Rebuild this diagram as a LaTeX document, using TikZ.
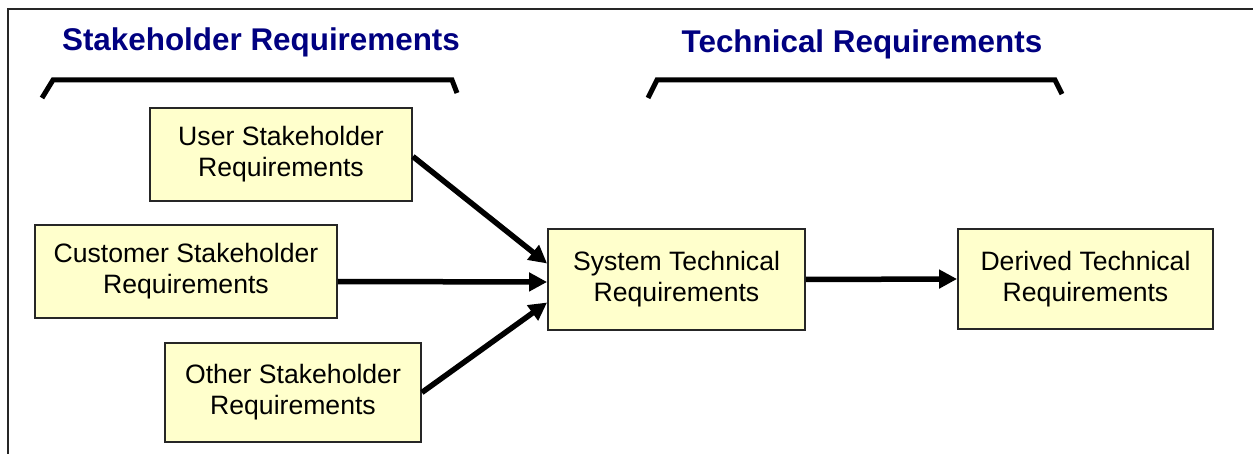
\documentclass[tikz,border=0pt]{standalone}
\usepackage{fontspec}
\setmainfont{Liberation Sans}
\usetikzlibrary{arrows.meta,calc}
\definecolor{boxfill}{HTML}{FFFFCC}
\definecolor{titleblue}{HTML}{000080}
\begin{document}
\begin{tikzpicture}[x=1pt,y=-1pt,
  reqbox/.style={draw=black!85, line width=1.8pt, fill=boxfill, align=center, inner sep=0pt,
    font=\fontsize{26.6}{31}\selectfont},
  title/.style={text=titleblue, font=\fontsize{31.4}{36}\selectfont\bfseries, inner sep=0pt},
  bracketline/.style={line width=5pt, line join=miter},
  flow/.style={line width=5.5pt, -{Triangle[length=18pt,width=18pt]}},
  frameline/.style={line width=2pt, draw=black!85}]
\useasboundingbox (0,0) rectangle (1253,454);
\draw[frameline] (8,454) -- (8,9) -- (1254,9);

\node[title] (t1) at (261,42) {Stakeholder Requirements};
\node[title] (t2) at (862,44) {Technical Requirements};

\draw[bracketline] (42,98) -- (53,80) -- (452,80) -- (457,93);
\draw[bracketline] (648,98) -- (657,80) -- (1055,80) -- (1062,94);

\node[reqbox, minimum width=262pt, minimum height=93pt] (user) at (281,154.5) {User Stakeholder\\Requirements};
\node[reqbox, minimum width=302pt, minimum height=93pt] (cust) at (186,271.5) {Customer Stakeholder\\Requirements};
\node[reqbox, minimum width=256pt, minimum height=99pt] (other) at (293,392.5) {Other Stakeholder\\Requirements};
\node[reqbox, minimum width=257pt, minimum height=101pt] (sys) at (676.5,279.5) {System Technical\\Requirements};
\node[reqbox, minimum width=255pt, minimum height=100pt] (der) at (1085.5,279) {Derived Technical\\Requirements};

\draw[flow] ($(user.east)+(0,2)$) -- ($(sys.west)+(0,-16)$);
\draw[flow] ($(cust.east)+(0,10)$) -- ($(sys.west)+(0,2.5)$);
\draw[flow] (other.east) -- ($(sys.west)+(0,23)$);
\draw[flow] (sys.east) -- (der.west);
\end{tikzpicture}
\end{document}
